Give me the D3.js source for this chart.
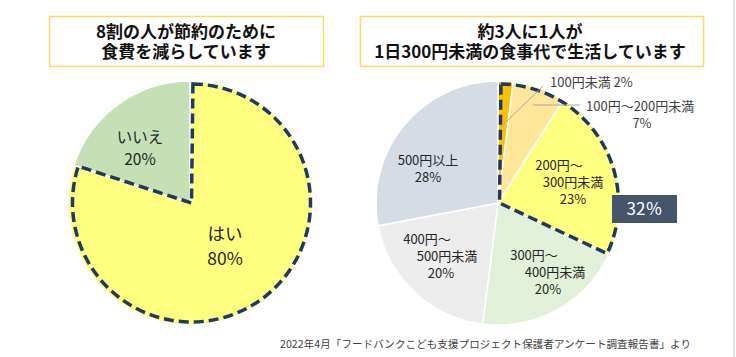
<!DOCTYPE html>
<html><head><meta charset="utf-8">
<script src="https://cdn.jsdelivr.net/npm/d3@7"></script>
<style>
html,body{margin:0;padding:0;background:#fff;}
svg{display:block;font-family:"Noto Sans CJK JP","Noto Sans",sans-serif;}
</style></head>
<body>
<svg id="c" width="736" height="357"></svg>
<script>
// ---- data ----
const leftTitle = ["8割の人が節約のために", "食費を減らしています"];
const leftCats = ["はい", "いいえ"];
const leftVals = [80, 20];
const leftColors = ["#ffff80", "#c5e0b4"];

const rightTitle = ["約3人に1人が", "1日300円未満の食事代で生活しています"];
const rightCats = ["100円未満", "100円～200円未満", "200円～300円未満", "300円～400円未満", "400円～500円未満", "500円以上"];
const rightVals = [2, 7, 23, 20, 20, 28];
const rightColors = ["#ffc000", "#ffe699", "#ffff80", "#e2f0d9", "#ededed", "#d6dce5"];
const highlightCount = 3; // first three slices outlined
const sourceText = "2022年4月「フードバンクこども支援プロジェクト保護者アンケート調査報告書」より";

// ---- layout ----
const svg = d3.select("#c");
const R = 122;
const lc = [190, 203], rc = [498, 203];

// right edge line
svg.append("line").attr("x1", 734).attr("x2", 734).attr("y1", 0).attr("y2", 357)
  .attr("stroke", "#d9d9d9").attr("stroke-width", 1.5);

// title boxes
function titleBox(x, y, w, h, lines, cx) {
  svg.append("rect").attr("x", x).attr("y", y).attr("width", w).attr("height", h)
    .attr("fill", "#fff").attr("stroke", "#ffd966").attr("stroke-width", 1.5);
  lines.forEach((t, i) => {
    svg.append("text").attr("x", cx).attr("y", 38 + i * 20).attr("text-anchor", "middle")
      .attr("font-size", 17).attr("font-weight", "bold").attr("fill", "#111").text(t);
  });
}
titleBox(49.5, 16.5, 274, 50, leftTitle, 186);
titleBox(360.5, 16.5, 343, 50, rightTitle, 530);

const pie = d3.pie().sort(null).value(d => d);
const arc = d3.arc().innerRadius(0).outerRadius(R);

// ---- left pie ----
const lg = svg.append("g").attr("transform", `translate(${lc})`);
const la = pie(leftVals);
lg.selectAll("path.s").data(la).join("path").attr("class", "s")
  .attr("d", arc).attr("fill", (d, i) => leftColors[i])
  .attr("stroke", "#fff").attr("stroke-width", 1.5);
// dashed outline on "はい"
const dashArc = d3.arc().innerRadius(0).outerRadius(R - 3);
lg.append("path").attr("d", dashArc({startAngle: la[0].startAngle + 0.012, endAngle: la[0].endAngle}))
  .attr("fill", "none").attr("stroke", "#203864").attr("stroke-width", 3.5)
  .attr("stroke-dasharray", "10,5").attr("transform", "translate(1.5,0)");

// left labels
const leftLabelPos = [[35, 37], [-50, -60]];
const leftLabelSize = [17.5, 15.5];
la.forEach((d, i) => {
  const t = lg.append("text").attr("text-anchor", "middle").attr("fill", "#262626")
    .attr("font-size", leftLabelSize[i]);
  t.append("tspan").attr("x", leftLabelPos[i][0]).attr("y", leftLabelPos[i][1]).text(leftCats[i]);
  t.append("tspan").attr("x", leftLabelPos[i][0]).attr("y", leftLabelPos[i][1] + (i === 0 ? 25 : 22)).text(leftVals[i] + "%");
});

// ---- right pie ----
const rg = svg.append("g").attr("transform", `translate(${rc})`);
const ra = pie(rightVals);
rg.selectAll("path.s").data(ra).join("path").attr("class", "s")
  .attr("d", arc).attr("fill", (d, i) => rightColors[i])
  .attr("stroke", "#fff").attr("stroke-width", 1.5);
rg.append("path").attr("d", dashArc({startAngle: ra[0].startAngle + 0.012, endAngle: ra[highlightCount - 1].endAngle}))
  .attr("fill", "none").attr("stroke", "#203864").attr("stroke-width", 3.5)
  .attr("stroke-dasharray", "10,5").attr("transform", "translate(1.5,0)");

// right labels: line splits
function splitLabel(c) {
  const k = c.indexOf("～");
  return k >= 0 ? [c.slice(0, k + 1), c.slice(k + 1)] : [c];
}
const labelFs = 13, lh = 17;
const rightLabelLayout = [
  null, null,
  {x: 75, y: -33, sh: [-14, 0, 0]},
  {x: 50, y: 57, sh: [-14, 7, 0]},
  {x: -57, y: 41, sh: [-14, 6, 0]},
  {x: -70, y: -38, sh: [0, 0]}
];
ra.forEach((d, i) => {
  const L = rightLabelLayout[i];
  if (!L) return;
  const lines = splitLabel(rightCats[i]).concat([rightVals[i] + "%"]);
  const t = rg.append("text").attr("text-anchor", "middle").attr("fill", "#262626").attr("font-size", labelFs);
  lines.forEach((s, j) => {
    t.append("tspan").attr("x", L.x + L.sh[j]).attr("y", L.y + j * lh).text(s);
  });
});

// outside labels with leader lines
const c0 = arc.centroid(ra[0]);
rg.append("line").attr("x1", c0[0] * 0.75).attr("y1", c0[1] * 1.25).attr("x2", 45).attr("y2", -117)
  .attr("stroke", "#a6a6a6").attr("stroke-width", 1);
rg.append("text").attr("x", 52).attr("y", -116).attr("font-size", labelFs).attr("fill", "#404040")
  .text(rightCats[0] + " " + rightVals[0] + "%");
rg.append("line").attr("x1", 35).attr("y1", -98).attr("x2", 82).attr("y2", -98)
  .attr("stroke", "#a6a6a6").attr("stroke-width", 1);
rg.append("text").attr("x", 88).attr("y", -92).attr("font-size", labelFs).attr("fill", "#404040")
  .text(rightCats[1]);
rg.append("text").attr("x", 144).attr("y", -75).attr("text-anchor", "middle").attr("font-size", labelFs).attr("fill", "#404040")
  .text(rightVals[1] + "%");

// 32% callout
const tot = d3.sum(rightVals.slice(0, highlightCount));
svg.append("rect").attr("x", 612).attr("y", 195).attr("width", 65).attr("height", 28).attr("fill", "#44546a");
svg.append("text").attr("x", 644.5).attr("y", 215).attr("text-anchor", "middle").attr("fill", "#fff")
  .attr("font-size", 17).text(tot + "％");

// source
svg.append("text").attr("x", 280).attr("y", 348).attr("font-size", 10.5).attr("fill", "#404040")
  .attr("textLength", 411).attr("lengthAdjust", "spacing").text(sourceText);
</script>
</body></html>
